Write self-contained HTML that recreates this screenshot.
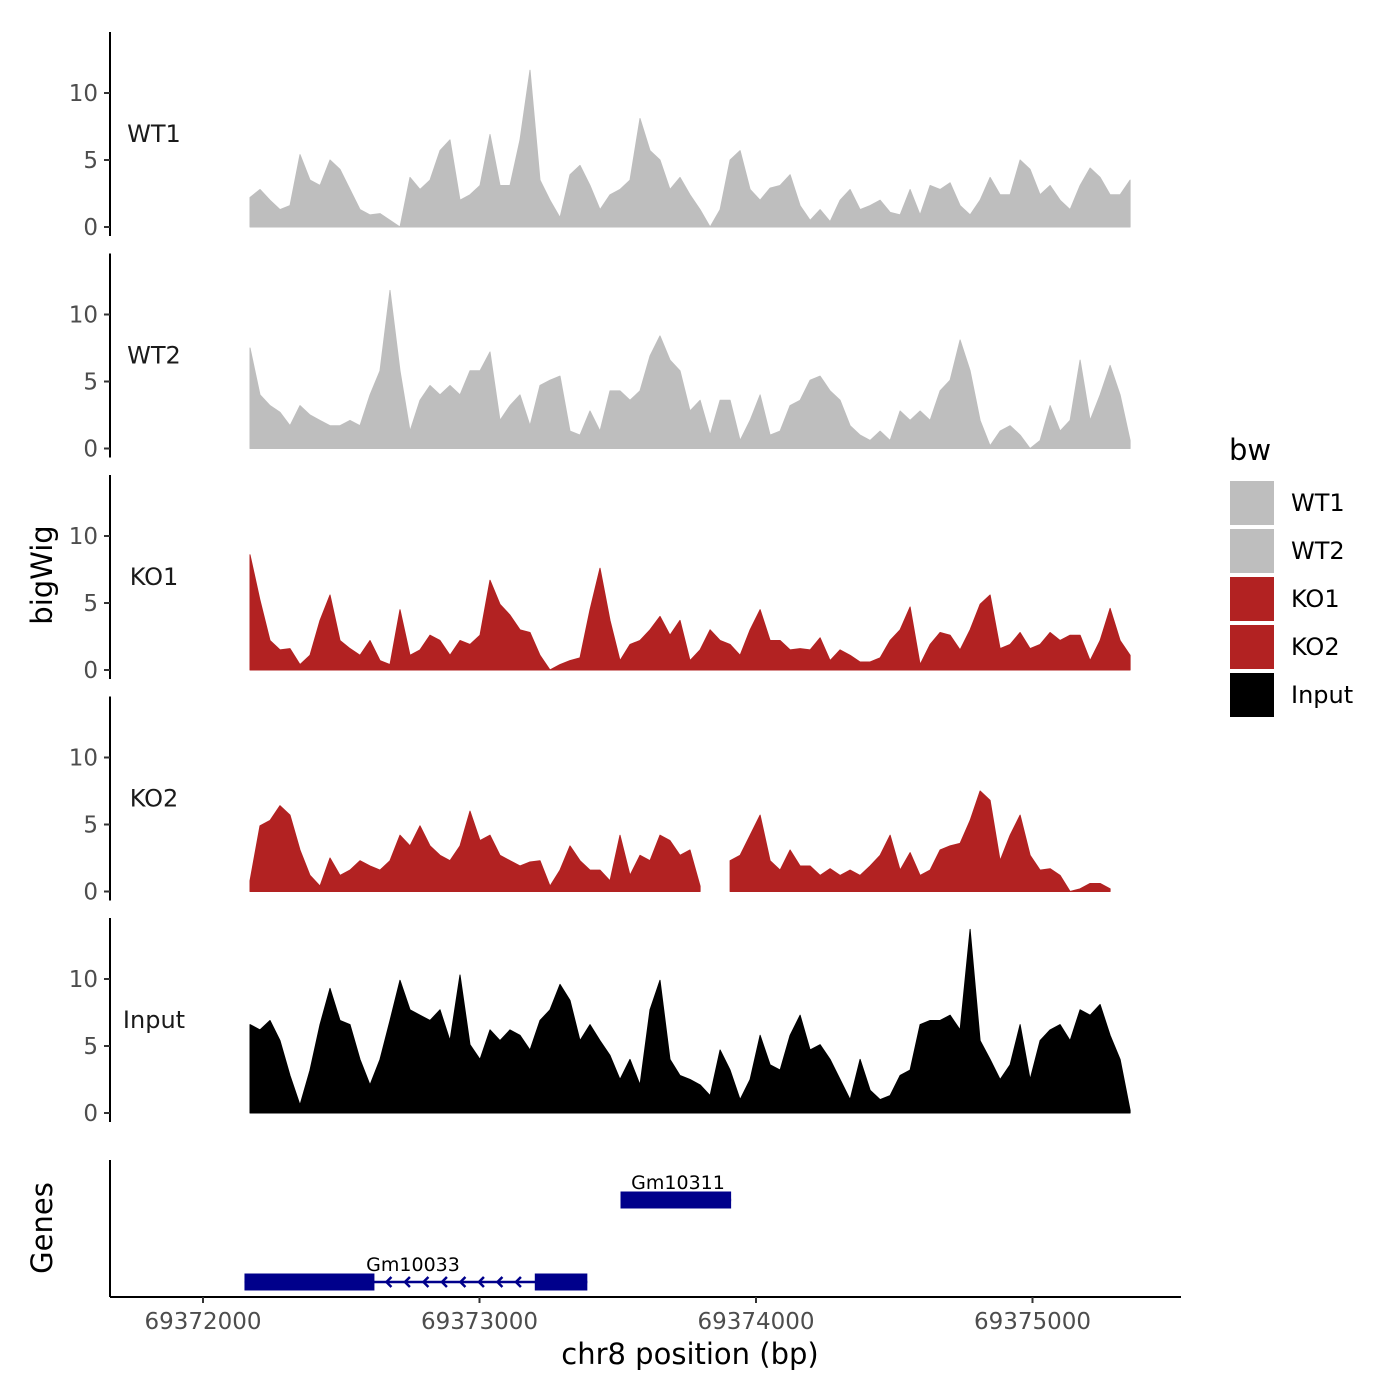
<!DOCTYPE html>
<html><head><meta charset="utf-8"><style>
html,body{margin:0;padding:0;background:#fff;}
svg{display:block;font-family:"DejaVu Sans","Liberation Sans",sans-serif;}
</style></head><body>
<svg id="chart" width="1400" height="1400" viewBox="0 0 1400 1400" xmlns="http://www.w3.org/2000/svg"></svg>
<script>
const trackNames = ["WT1","WT2","KO1","KO2","Input"];
const trackColors = ["#bebebe","#bebebe","#b22222","#b22222","#000000"];
const posStart = 69372170, posStep = 36.17, nPos = 89;
const wt1 = [2.2,2.8,2,1.3,1.6,5.4,3.5,3.1,5,4.3,2.8,1.3,0.9,1,0.5,0,3.7,2.8,3.5,5.7,6.5,2,2.4,3.1,6.9,3.1,3.1,6.5,11.7,3.5,2,0.7,3.9,4.6,3.1,1.3,2.4,2.8,3.5,8.1,5.7,5,2.8,3.7,2.4,1.3,0,1.3,5,5.7,2.8,2,2.9,3.1,3.9,1.6,0.5,1.3,0.4,2,2.8,1.3,1.6,2,1.1,0.9,2.8,0.9,3.1,2.8,3.3,1.6,0.9,2,3.7,2.4,2.4,5,4.3,2.4,3.1,2,1.3,3.1,4.4,3.7,2.4,2.4,3.5];
const wt2 = [7.5,4,3.2,2.7,1.7,3.2,2.5,2.1,1.7,1.7,2.1,1.7,4,5.8,11.8,5.8,1.3,3.6,4.7,4,4.7,4,5.8,5.8,7.2,2.1,3.2,4,1.7,4.7,5.1,5.4,1.3,1,2.8,1.3,4.3,4.3,3.6,4.3,6.9,8.4,6.6,5.8,2.8,3.6,1,3.6,3.6,0.6,2.1,4,1,1.3,3.2,3.6,5.1,5.4,4.3,3.6,1.7,1,0.6,1.3,0.6,2.8,2.1,2.8,2.1,4.3,5.1,8.1,5.8,2.1,0.2,1.3,1.7,1,0,0.6,3.2,1.3,2.1,6.6,2.1,4,6.2,4,0.6];
const ko1 = [8.6,5.2,2.2,1.5,1.6,0.4,1.1,3.7,5.6,2.2,1.6,1.1,2.2,0.7,0.4,4.5,1.1,1.5,2.6,2.2,1.1,2.2,1.9,2.6,6.7,4.9,4.1,3,2.8,1.1,0,0.4,0.7,0.9,4.5,7.6,3.7,0.7,1.9,2.2,3,4,2.6,3.7,0.7,1.5,3,2.2,1.9,1.1,3,4.5,2.2,2.2,1.5,1.6,1.5,2.4,0.7,1.5,1.1,0.6,0.6,0.9,2.2,3,4.7,0.4,1.9,2.8,2.6,1.5,3,4.9,5.6,1.6,1.9,2.8,1.6,1.9,2.8,2.2,2.6,2.6,0.7,2.2,4.6,2.2,1.1];
const ko2 = [0.8,4.9,5.3,6.4,5.7,3.1,1.2,0.4,2.5,1.2,1.6,2.3,1.9,1.6,2.3,4.2,3.4,4.9,3.4,2.7,2.3,3.4,6,3.8,4.2,2.7,2.3,1.9,2.2,2.3,0.4,1.6,3.4,2.3,1.6,1.6,0.8,4.2,1.2,2.7,2.3,4.2,3.8,2.7,3.1,0.4,null,null,2.3,2.7,4.2,5.7,2.3,1.6,3.1,1.9,1.9,1.2,1.7,1.2,1.6,1.2,1.9,2.7,4.2,1.6,2.9,1.2,1.6,3.1,3.4,3.6,5.3,7.5,6.8,2.3,4.2,5.7,2.7,1.6,1.7,1.2,0,0.2,0.6,0.6,0.2,null,null];
const input = [6.6,6.2,6.9,5.4,2.8,0.6,3.2,6.6,9.3,6.9,6.6,4,2.1,4,6.9,9.9,7.7,7.3,6.9,7.7,5.4,10.3,5.1,4,6.2,5.4,6.2,5.8,4.7,6.9,7.7,9.6,8.4,5.4,6.6,5.4,4.3,2.5,4,2.1,7.7,9.9,4,2.8,2.5,2.1,1.3,4.7,3.2,1,2.5,5.8,3.6,3.2,5.8,7.3,4.7,5.1,4,2.5,1,4,1.7,1,1.3,2.8,3.2,6.6,6.9,6.9,7.3,6.2,13.7,5.4,4,2.5,3.6,6.6,2.5,5.4,6.2,6.6,5.4,7.7,7.3,8.1,5.8,4,0.2];
const seriesList = [wt1,wt2,ko1,ko2,input];
const xTicks = [69372000,69373000,69374000,69375000];
const yTicks = [0,5,10];
const genes = [
  {name:"Gm10311", row:0, start:69373510, end:69373910, exons:[[69373510,69373910]]},
  {name:"Gm10033", row:1, start:69372150, end:69373390, exons:[[69372150,69372620],[69373200,69373390]]}
];

const NS="http://www.w3.org/2000/svg";
const svg=document.getElementById('chart');
function mk(tag,attrs,parent){const e=document.createElementNS(NS,tag);for(const k in attrs)e.setAttribute(k,attrs[k]);(parent||svg).appendChild(e);return e;}
const xScale = bp => 203 + (bp-69372000)*0.2765;
const panelBase = [227,448.5,670,891.5,1113];
const yUnit = 13.4;
const axisX=110;

trackNames.forEach((name,ti)=>{
  const base=panelBase[ti];
  const g=mk('g',{});
  
  
  const ax=mk('line',{x1:axisX,x2:axisX,y1:base-195,y2:base+9,stroke:'#000','stroke-width':2},g);
  
  
  yTicks.forEach(v=>{
    const y=base-v*yUnit;
    mk('line',{x1:axisX-6,x2:axisX,y1:y,y2:y,stroke:'#333','stroke-width':2},g);
    const t=mk('text',{x:axisX-12,y:y+8,'text-anchor':'end','font-size':23,fill:'#4d4d4d'},g);
    t.textContent=v;
    
    
  });
  const lbl=mk('text',{x:154,y:base-85,'text-anchor':'middle','font-size':24,fill:'#1a1a1a'},g);
  lbl.textContent=name;
  
  
  const vals=seriesList[ti];
  let seg=[];
  const flush=()=>{
    if(seg.length>1){
      let d='M'+seg[0][0].toFixed(1)+','+base;
      seg.forEach(p=>{d+=' L'+p[0].toFixed(1)+','+(base-p[1]*yUnit).toFixed(1);});
      d+=' L'+seg[seg.length-1][0].toFixed(1)+','+base+' Z';
      const p=mk('path',{d:d,fill:trackColors[ti],stroke:trackColors[ti],'stroke-width':1,'stroke-linejoin':'round'},g);
      
      
    }
    seg=[];
  };
  vals.forEach((v,i)=>{
    if(v===null){flush();return;}
    seg.push([xScale(posStart+i*posStep),v]);
  });
  flush();
});

const yt=mk('text',{x:0,y:0,transform:'translate(52,575) rotate(-90)','text-anchor':'middle','font-size':29,fill:'#000'});
yt.textContent='bigWig';



const gt=mk('text',{x:0,y:0,transform:'translate(52,1228) rotate(-90)','text-anchor':'middle','font-size':29,fill:'#000'});
gt.textContent='Genes';


const gax=mk('line',{x1:axisX,x2:axisX,y1:1160,y2:1297,stroke:'#000','stroke-width':2});


const rowY=[1200,1282];
genes.forEach(gn=>{
  const y=rowY[gn.row];
  const g=mk('g',{});
  
  
  const x1=xScale(gn.start), x2=xScale(gn.end);
  mk('line',{x1:x1,x2:x2,y1:y,y2:y,stroke:'#00008b','stroke-width':2.5},g);
  if(gn.exons.length>1){
    const a=xScale(gn.exons[0][1]), b=xScale(gn.exons[1][0]);
    for(let x=a+12;x<b-4;x+=18.5){
      mk('polyline',{points:(x+5)+','+(y-5)+' '+x+','+y+' '+(x+5)+','+(y+5),fill:'none',stroke:'#00008b','stroke-width':2.5},g);
    }
  }
  gn.exons.forEach(ex=>{
    const r=mk('rect',{x:xScale(ex[0]),y:y-8.5,width:xScale(ex[1])-xScale(ex[0]),height:17,fill:'#00008b'},g);
    
    
  });
  const t=mk('text',{x:(gn.row===0?678:413),y:y-11,'text-anchor':'middle','font-size':19,fill:'#000'},g);
  t.textContent=gn.name;
  
  
});

const xa=mk('line',{x1:110,x2:1181,y1:1297,y2:1297,stroke:'#000','stroke-width':2});


xTicks.forEach(v=>{
  const x=xScale(v);
  mk('line',{x1:x,x2:x,y1:1297,y2:1303,stroke:'#333','stroke-width':2});
  const t=mk('text',{x:x,y:1329,'text-anchor':'middle','font-size':23,fill:'#4d4d4d'});
  t.textContent=v;
  
  
});
const xt=mk('text',{x:690,y:1364,'text-anchor':'middle','font-size':29,fill:'#000'});
xt.textContent='chr8 position (bp)';



const lt=mk('text',{x:1229,y:460,'font-size':29,fill:'#000'});
lt.textContent='bw';


trackNames.forEach((n,i)=>{
  const y=481+i*48;
  const g=mk('g',{});
  
  
  mk('rect',{x:1230,y:y,width:44,height:44,fill:trackColors[i]},g);
  const t=mk('text',{x:1291,y:y+30,'font-size':24,fill:'#000'},g);
  t.textContent=n;
});
</script>
</body></html>
